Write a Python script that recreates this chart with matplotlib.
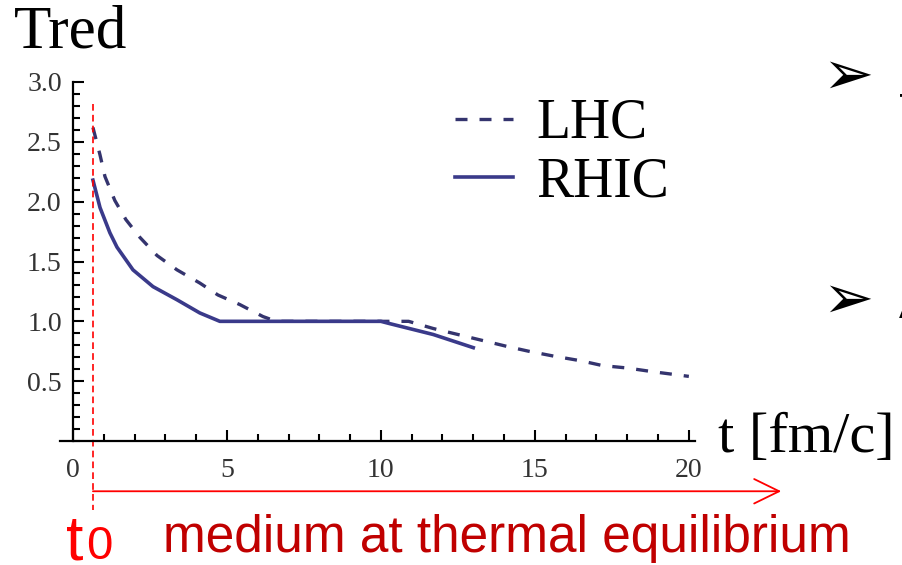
import matplotlib
matplotlib.use("Agg")
import matplotlib.pyplot as plt
from matplotlib.patches import Circle
from matplotlib.ticker import MultipleLocator, FixedLocator

# ---- data ----
t_lhc = [0.65, 0.88, 1.04, 1.36, 1.72, 2.18, 2.73, 3.38, 4.12, 4.71, 5.42, 6.17,
         6.6, 8.0, 10.9, 11.7, 12.5, 13.3, 14.1, 14.8, 15.6, 16.5, 17.2, 18.0,
         18.8, 19.7, 20.0]
T_lhc = [2.62, 2.39, 2.21, 2.01, 1.85, 1.70, 1.55, 1.43, 1.32, 1.22, 1.14, 1.04,
         1.0, 1.0, 1.0, 0.94, 0.89, 0.84, 0.79, 0.75, 0.71, 0.67, 0.63, 0.61,
         0.58, 0.55, 0.54]
t_rhic = [0.65, 0.88, 1.2, 1.43, 1.95, 2.6, 3.38, 4.12, 4.77, 5.2, 10.0, 10.3,
          11.7, 13.0]
T_rhic = [2.18, 1.95, 1.74, 1.62, 1.43, 1.29, 1.18, 1.07, 1.0, 1.0, 1.0, 0.98,
          0.89, 0.78]
series_labels = ["LHC", "RHIC"]
x_ticks = [0, 5, 10, 15, 20]
y_ticks = [0.5, 1.0, 1.5, 2.0, 2.5, 3.0]
t0 = 0.65

W, H = 903, 565
fig = plt.figure(figsize=(W / 100, H / 100), dpi=100)
ax = fig.add_axes([60 / W, 124 / H, 635 / W, 359 / H])
ax.set_xlim(-0.42, 20.2)
ax.set_ylim(0, 3.0)

curve_col = "#3a3a8a"
ax.plot(t_lhc, T_lhc, color="#34346e", lw=2.4, linestyle=(0, (3.6, 3.6)),
        label=series_labels[0], dash_capstyle="butt")
ax.plot(t_rhic, T_rhic, color=curve_col, lw=2.6, label=series_labels[1])

# spines
for s in ["top", "right"]:
    ax.spines[s].set_visible(False)
ax.spines["left"].set_position(("data", 0))
ax.spines["left"].set_linewidth(1.6)
ax.spines["bottom"].set_linewidth(1.6)

serif = "Liberation Serif"
ax.xaxis.set_major_locator(FixedLocator(x_ticks))
ax.xaxis.set_minor_locator(MultipleLocator(1))
ax.yaxis.set_major_locator(FixedLocator(y_ticks))
ax.yaxis.set_minor_locator(MultipleLocator(0.1))
ax.set_xticklabels([str(v) for v in x_ticks])
ax.set_yticklabels([f"{v:.1f}" for v in y_ticks])
ax.tick_params(axis="both", which="major", direction="in", length=8, width=1.5,
               labelsize=20, labelcolor="#333333")
ax.tick_params(axis="both", which="minor", direction="in", length=5, width=1.5)
ax.tick_params(axis="x", which="major", pad=12)
ax.tick_params(axis="y", which="major", pad=8)
for lab in ax.get_xticklabels() + ax.get_yticklabels():
    lab.set_family(serif)

# legend
leg = ax.legend(loc="upper left", bbox_to_anchor=(455 / W, 1 - 98 / H),
                bbox_transform=fig.transFigure, frameon=False,
                prop={"family": serif, "size": 40}, handlelength=1.05,
                handletextpad=0.42, labelspacing=0.12, borderpad=0,
                borderaxespad=0)

# red marker line and arrow
ax.plot([t0, t0], [2.82, -0.58], color="red", lw=1.2, linestyle=(0, (4, 2.5)),
        clip_on=False)
ax.annotate("", xy=(23.0, -0.42), xytext=(t0, -0.42), xycoords="data",
            annotation_clip=False,
            arrowprops=dict(arrowstyle="->,head_length=0.45,head_width=0.22",
                            color="red", lw=1.3, mutation_scale=40,
                            shrinkA=0, shrinkB=0))

# texts
fig.text(14 / W, 1 - 47 / H, "Tred", family=serif, fontsize=44, va="baseline")
fig.text(718 / W, 1 - 452 / H, "t [fm/c]", family=serif, fontsize=42,
         va="baseline")
fig.text(66 / W, 1 - 559 / H, "t", family="Liberation Sans", fontsize=45,
         color="red", va="baseline")
fig.text(86 / W, 1 - 559 / H, "0", family="Liberation Sans", fontsize=34,
         color="red", va="baseline")
fig.text(163 / W, 1 - 552 / H, "medium at thermal equilibrium",
         family="Liberation Sans", fontsize=37, color="#c00000", va="baseline")

# slide bullets at right edge
fig.text(822 / W, 1 - 94 / H, "\u27a2", family="DejaVu Sans", fontsize=44,
         va="baseline")
fig.text(822 / W, 1 - 318 / H, "\u27a2", family="DejaVu Sans", fontsize=44,
         va="baseline")
fig.text(899 / W, 1 - 125 / H, "T", family="Liberation Sans", fontsize=32,
         va="baseline")
fig.text(899 / W, 1 - 318 / H, "A", family="Liberation Sans", fontsize=32,
         va="baseline")

# corner decoration
fig.patches.append(Circle((-25 / W, -25 / H), 40 / W, transform=fig.transFigure,
                          color="#2a3580", figure=fig))

fig.savefig("out.png", dpi=100)
